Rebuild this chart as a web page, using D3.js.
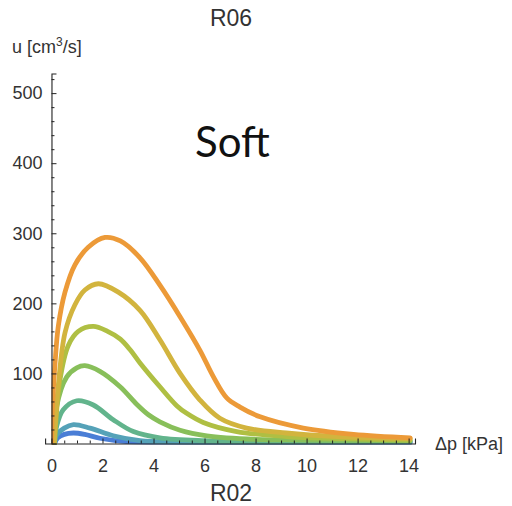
<!DOCTYPE html>
<html>
<head>
<meta charset="utf-8">
<script src="https://cdn.jsdelivr.net/npm/d3@7"></script>
<style>
  html, body { margin: 0; padding: 0; background: #fff; }
  svg { display: block; }
</style>
</head>
<body>
<svg id="chart" width="512" height="506"></svg>
<script>
// ---- data ----
const seriesNames = ["s1", "s2", "s3", "s4", "s5", "s6", "s7"]; // blue -> orange
const seriesColors = ["#4a7ed6", "#55a2b8", "#62b48c", "#88bf5a", "#afbf43", "#d2b43e", "#ec9a38"];
const s1 = [[0.12,0],[0.25,8],[0.5,13],[0.86,15],[1.3,13],[1.9,7.5],[2.95,2.6],[4.5,1],[14.06,1]];
const s2 = [[0.12,0],[0.2,12],[0.5,22],[0.86,27],[1.51,22],[2.42,11],[3.47,4],[5,2],[14.06,2]];
const s3 = [[0.12,0],[0.2,24],[0.46,48],[0.99,61],[1.64,55],[2.42,34],[3.21,17],[4.25,8],[6,4],[9,3],[14.06,3]];
const s4 = [[0.12,0],[0.2,52],[0.6,95],[0.99,108],[1.31,111],[1.9,103],[2.69,81],[3.34,56],[3.8,41],[4.25,31],[5.04,19],[6.09,11],[8,6],[10,5],[14.06,4]];
const s5 = [[0.12,0],[0.33,90],[0.66,140],[1.05,160],[1.64,167],[2.2,160],[2.7,149],[3.1,133],[3.47,115],[4.25,81],[4.91,54],[5.3,43],[5.95,30],[7.26,17],[9.2,10],[11.5,7],[14.06,5]];
const s6 = [[0.1,0],[0.27,84],[0.53,158],[0.92,198],[1.31,219],[1.84,228],[2.62,216],[3.47,190],[4.25,148],[5.04,100],[5.82,62],[6.6,36],[7.65,22],[9.2,15],[11.2,10],[14.06,7]];
const s7 = [[0,0],[0.05,60],[0.14,115],[0.27,168],[0.53,216],[0.92,255],[1.44,280],[2.1,294],[2.7,289],[3.47,265],[4.25,226],[5.04,181],[5.82,133],[6.35,95],[6.87,65],[7.39,52],[8.18,38],[9.87,22],[11.84,13],[14.06,8]];
const seriesValues = [s1, s2, s3, s4, s5, s6, s7];

const xMajorTicks = [0, 2, 4, 6, 8, 10, 12, 14];
const yMajorTicks = [100, 200, 300, 400, 500];
const titleTop = "R06";
const titleBottom = "R02";
const annotation = "Soft";
const xLabel = "Δp [kPa]";

// ---- drawing ----
const svg = d3.select("#chart");
const x = d3.scaleLinear().domain([-0.25, 14.25]).range([45.1, 415]);
const y = d3.scaleLinear().domain([0, 528]).range([443.5, 73.5]);
const fontFam = "'Liberation Sans', Arial, sans-serif";
const axisColor = "#222";

// clip plotting region
svg.append("defs").append("clipPath").attr("id", "clip")
  .append("rect").attr("x", x(0)).attr("y", y(528)).attr("width", x(14.25) - x(0) + 5).attr("height", y(0) - y(528) + 1);

const line = d3.line()
  .x(d => x(d[0])).y(d => y(d[1]))
  .curve(d3.curveCatmullRom.alpha(0.5));

const g = svg.append("g").attr("clip-path", "url(#clip)");
seriesValues.forEach((vals, i) => {
  g.append("path")
    .datum(vals)
    .attr("d", line)
    .attr("fill", "none")
    .attr("stroke", seriesColors[i])
    .attr("stroke-width", 4.8)
    .attr("stroke-linejoin", "round")
    .attr("stroke-linecap", "round");
});

// x axis
const xMinor = d3.range(0, 14.01, 0.5).filter(v => Math.abs(v % 2) > 1e-9);
const xAxisG = svg.append("g").attr("transform", `translate(0,${y(0)})`);
xAxisG.call(d3.axisBottom(x).tickValues(xMajorTicks).tickSize(-5).tickPadding(16).tickFormat(d3.format("d")));
xAxisG.append("g").call(d3.axisBottom(x).tickValues(xMinor).tickSize(-3).tickFormat(""))
  .select(".domain").remove();

// y axis
const yMinor = d3.range(20, 521, 20).filter(v => v % 100 !== 0);
const yAxisG = svg.append("g").attr("transform", `translate(${x(0)},0)`);
yAxisG.call(d3.axisLeft(y).tickValues(yMajorTicks).tickSize(-5).tickPadding(9).tickFormat(d3.format("d")));
yAxisG.append("g").call(d3.axisLeft(y).tickValues(yMinor).tickSize(-3).tickFormat(""))
  .select(".domain").remove();

svg.selectAll(".domain").attr("stroke", axisColor).attr("stroke-width", 1.1);
svg.selectAll(".tick line").attr("stroke", axisColor).attr("stroke-width", 1);
svg.selectAll(".tick text").attr("font-family", fontFam).attr("font-size", 18).attr("fill", "#333");

// labels
const yl = svg.append("text").attr("x", 12).attr("y", 53)
  .attr("font-family", fontFam).attr("font-size", 18).attr("fill", "#333");
yl.append("tspan").text("u [cm");
yl.append("tspan").attr("font-size", 12).attr("dy", -7).text("3");
yl.append("tspan").attr("dy", 7).text("/s]");

svg.append("text").attr("x", 435).attr("y", 450)
  .attr("font-family", fontFam).attr("font-size", 18).attr("fill", "#333").text(xLabel);

svg.append("text").attr("x", 231).attr("y", 26).attr("text-anchor", "middle")
  .attr("font-family", fontFam).attr("font-size", 23).attr("fill", "#333").text(titleTop);
svg.append("text").attr("x", 231).attr("y", 501).attr("text-anchor", "middle")
  .attr("font-family", fontFam).attr("font-size", 23).attr("fill", "#333").text(titleBottom);

svg.append("text").attr("x", 195).attr("y", 157)
  .attr("font-family", "Lato, 'Open Sans', sans-serif").attr("font-size", 42).attr("fill", "#111").text(annotation);
</script>
</body>
</html>
